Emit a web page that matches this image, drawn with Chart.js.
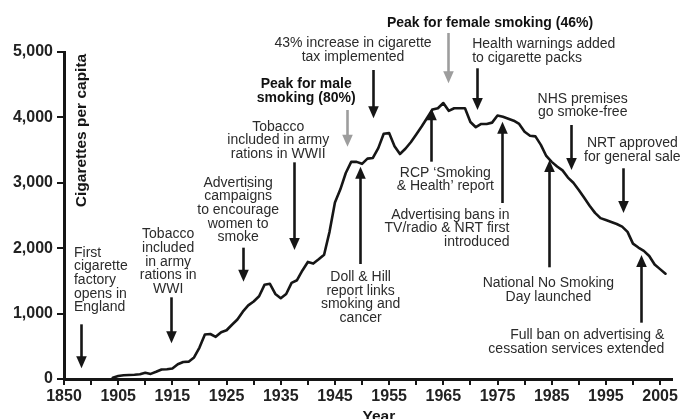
<!DOCTYPE html>
<html><head><meta charset="utf-8">
<script src="https://cdn.jsdelivr.net/npm/chart.js@4/dist/chart.umd.min.js"></script>
<style>html,body{margin:0;padding:0;background:#fff}#wrap{width:680px;height:419px;position:relative}</style>
</head><body><div id="wrap"><canvas id="c"></canvas></div>
<script>
// The x axis is broken: the "1850" tick sits where 1895 would be.
const years = [1904,1905,1906,1907,1908,1909,1910,1911,1912,1913,1914,1915,1916,1917,1918,1919,1920,
  1921,1922,1923,1924,1925,1926,1927,1928,1929,1930,1931,1932,1933,1934,1935,1936,1937,1938,1939,1940,
  1941,1942,1943,1944,1945,1946,1947,1948,1949,1950,1951,1952,1953,1954,1955,1956,1957,1958,1959,1960,
  1961,1962,1963,1964,1965,1966,1967,1968,1969,1970,1971,1972,1973,1974,1975,1976,1977,1978,1979,1980,
  1981,1982,1983,1984,1985,1986,1987,1988,1989,1990,1991,1992,1993,1994,1995,1996,1997,1998,1999,2000,
  2001,2002,2003,2004,2005,2006];
const cigarettesPerCapita = [20,45,58,62,66,72,95,78,110,145,150,160,225,260,265,330,480,
  680,688,645,715,745,830,910,1030,1125,1185,1265,1440,1455,1300,1235,1300,1470,1510,1660,1790,
  1765,1830,1900,2250,2700,2900,3150,3320,3320,3290,3370,3380,3530,3750,3760,3560,3440,3520,3620,3740,
  3860,3990,4120,4140,4220,4100,4140,4140,4140,3930,3850,3900,3900,3920,4030,4010,3980,3950,3900,3780,
  3720,3710,3580,3410,3320,3250,3190,3080,3000,2890,2770,2650,2540,2460,2430,2400,2370,2330,2250,2070,
  2010,1960,1880,1750,1680,1610];
const xTickValues = [1895,1900,1905,1910,1915,1920,1925,1930,1935,1940,1945,1950,1955,1960,1965,1970,1975,1980,1985,1990,1995,2000,2005];
const xTickLabels = ['1850','','1905','','1915','','1925','','1935','','1945','','1955','','1965','','1975','','1985','','1995','','2005'];
const yTickValues = [0,1000,2000,3000,4000,5000];
const yTitle = 'Cigarettes per capita';
const xTitle = 'Year';

// annotations: arrow at year, from value -> to value (tip); text anchor at (tx, ty) value of first baseline
const annotations = [
  {lines:['First','cigarette','factory','opens in','England'], align:'left', tx:1896.84, ty:1870, ax:1898.08, from:836, to:164},
  {lines:['Tobacco','included','in army','rations in','WWI'], align:'center', tx:1914.22, ty:2151, ax:1914.67, from:1249, to:546},
  {lines:['Advertising','campaigns','to encourage','women to','smoke'], align:'center', tx:1927.13, ty:2940, ax:1928.05, from:2008, to:1488},
  {lines:['Tobacco','included in army','rations in WWII'], align:'center', tx:1934.54, ty:3797, ax:1937.45, from:3313, to:1972},
  {lines:['Peak for male','smoking (80%)'], align:'center', bold:true, tx:1939.70, ty:4445, ax:1947.16, from:4113, to:3552, grey:true},
  {lines:['43% increase in cigarette','tax implemented'], align:'center', tx:1948.34, ty:5072, ax:1952.01, from:4725, to:3986},
  {lines:['Peak for female smoking (46%)'], align:'center', bold:true, tx:1973.61, ty:5387, ax:1965.83, from:5291, to:4521, grey:true},
  {lines:['Health warnings added','to cigarette packs'], align:'left', tx:1970.33, ty:5057, ax:1971.25, from:4751, to:4113},
  {lines:['NHS premises','go smoke-free'], align:'center', tx:1990.72, ty:4225, ax:1988.58, from:3884, to:3196},
  {lines:['NRT approved','for general sale'], align:'center', tx:1999.88, ty:3543, ax:1998.09, from:3222, to:2538},
  {lines:['RCP \u2018Smoking','& Health\u2019 report'], align:'center', tx:1965.37, ty:3093, ax:1962.77, from:3323, to:4139},
  {lines:['Advertising bans in','TV/radio & NRT first','introduced'], align:'right', tx:1977.21, ty:2451, ax:1975.79, from:2691, to:3934},
  {lines:['National No Smoking','Day launched'], align:'center', tx:1984.39, ty:1402, ax:1984.45, from:1708, to:3349},
  {lines:['Full ban on advertising &','cessation services extended'], align:'right', tx:2005.77, ty:612, ax:2001.48, from:861, to:1896},
  {lines:['Doll & Hill','report links','smoking and','cancer'], align:'center', tx:1949.74, ty:1498, ax:1949.56, from:1758, to:3246}
];

const FONT = '"Liberation Sans", Arial, Helvetica, sans-serif';
const INK = '#161616';

const annotator = {
  id: 'annotator',
  afterDraw(chart) {
    const {ctx, scales:{x, y}} = chart;
    ctx.save();
    // axis titles
    ctx.fillStyle = INK;
    ctx.font = 'bold 15.5px ' + FONT;
    ctx.textAlign = 'center';
    ctx.textBaseline = 'alphabetic';
    ctx.save();
    ctx.translate(x.left + 21.5, y.getPixelForValue(3800));
    ctx.rotate(-Math.PI / 2);
    ctx.fillText(yTitle, 0, 0);
    ctx.restore();
    ctx.fillText(xTitle, x.getPixelForValue(1953.1), 420.5);

    annotations.forEach(a => {
      ctx.font = (a.bold ? 'bold ' : '') + '14px ' + FONT;
      ctx.fillStyle = a.bold ? '#111' : '#2b2b2b';
      ctx.textAlign = a.align;
      ctx.textBaseline = 'alphabetic';
      const tx = x.getPixelForValue(a.tx);
      const ty = y.getPixelForValue(a.ty);
      a.lines.forEach((l, i) => ctx.fillText(l, tx, ty + i * 13.6));
      // arrow
      const ax = Math.round(x.getPixelForValue(a.ax)) + 0.5;
      const y0 = y.getPixelForValue(a.from);
      const y1 = y.getPixelForValue(a.to);
      const dir = y1 > y0 ? 1 : -1;
      const head = 12, hw = 5.3;
      const col = a.grey ? '#9d9d9d' : '#161616';
      ctx.strokeStyle = col; ctx.fillStyle = col;
      ctx.lineWidth = 2.6;
      ctx.beginPath();
      ctx.moveTo(ax, y0);
      ctx.lineTo(ax, y1 - dir * (head - 1));
      ctx.stroke();
      ctx.beginPath();
      ctx.moveTo(ax, y1);
      ctx.lineTo(ax - hw, y1 - dir * head);
      ctx.lineTo(ax + hw, y1 - dir * head);
      ctx.closePath();
      ctx.fill();
    });
    ctx.restore();
  }
};

new Chart(document.getElementById('c'), {
  type: 'line',
  data: {
    datasets: [{
      data: years.map((yr, i) => ({x: yr, y: cigarettesPerCapita[i]})),
      borderColor: INK, borderWidth: 2.6, pointRadius: 0, tension: 0,
      borderJoinStyle: 'round', borderCapStyle: 'round', fill: false
    }]
  },
  options: {
    responsive: true, maintainAspectRatio: false, animation: false,
    layout: {padding: {left: 0, top: 52, right: 7, bottom: 0}},
    plugins: {legend: {display: false}, tooltip: {enabled: false}},
    scales: {
      x: {
        type: 'linear', min: 1895, max: 2007.25,
        afterBuildTicks: s => { s.ticks = xTickValues.map(v => ({value: v})); },
        afterFit: s => { s.height = 40; },
        ticks: {autoSkip: false, maxRotation: 0, padding: 2, color: '#222',
          font: {family: FONT, size: 16, weight: 'bold'},
          callback: v => { const i = xTickValues.indexOf(v); return i >= 0 ? xTickLabels[i] : ''; }},
        grid: {drawOnChartArea: false, drawTicks: true, tickLength: 6, lineWidth: 2, color: INK},
        border: {display: true, width: 3, color: INK}
      },
      y: {
        min: 0, max: 5000,
        afterBuildTicks: s => { s.ticks = yTickValues.map(v => ({value: v})); },
        afterFit: s => { s.width = 64; },
        ticks: {padding: 4, color: '#222', font: {family: FONT, size: 16, weight: 'bold'},
          callback: v => v.toLocaleString('en-US')},
        grid: {drawOnChartArea: false, drawTicks: true, tickLength: 7, lineWidth: 2, color: INK},
        border: {display: true, width: 3, color: INK}
      }
    }
  },
  plugins: [annotator]
});
</script></body></html>
